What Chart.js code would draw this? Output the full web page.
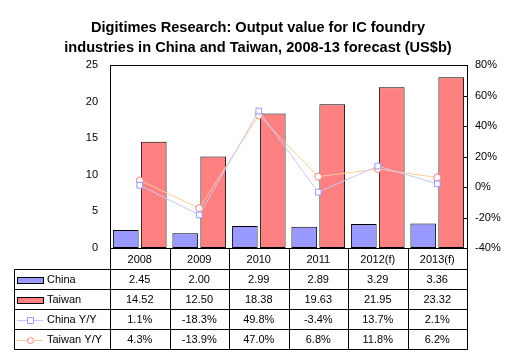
<!DOCTYPE html>
<html>
<head>
<meta charset="utf-8">
<script src="https://cdn.jsdelivr.net/npm/chart.js@4/dist/chart.umd.min.js"></script>
<style>
html,body{margin:0;padding:0;background:#fff;}
canvas{display:block;}
</style>
</head>
<body>
<canvas id="c" width="516" height="355"></canvas>
<script>
const categories = ['2008', '2009', '2010', '2011', '2012(f)', '2013(f)'];
const chinaValues = [2.45, 2.00, 2.99, 2.89, 3.29, 3.36];
const taiwanValues = [14.52, 12.50, 18.38, 19.63, 21.95, 23.32];
const chinaYoY = [1.1, -18.3, 49.8, -3.4, 13.7, 2.1];
const taiwanYoY = [4.3, -13.9, 47.0, 6.8, 11.8, 6.2];
const leftTicks = [0, 5, 10, 15, 20, 25];
const rightTicks = [-40, -20, 0, 20, 40, 60, 80];
const titleLines = ['Digitimes Research: Output value for IC foundry', 'industries in China and Taiwan, 2008-13 forecast (US$b)'];

const FONT = '"Liberation Sans", Arial, sans-serif';
const C_CHINA = '#9999FF', C_TAIWAN = '#FF8080';
const C_CHINA_LINE = '#C8C8FF', C_TAIWAN_LINE = '#FFCC99';

const tablePlugin = {
  id: 'dataTable',
  afterDatasetsDraw(chart) {
    const ctx = chart.ctx, a = chart.chartArea, xs = chart.scales.x, y1 = chart.scales.y1;
    const n = categories.length;
    const w = (a.right - a.left) / n;
    const px = v => Math.round(v) + 0.5;
    ctx.save();
    ctx.strokeStyle = '#000';
    ctx.lineWidth = 1;
    // plot border
    ctx.strokeRect(px(a.left), px(a.top), Math.round(a.right) - Math.round(a.left), Math.round(a.bottom) - Math.round(a.top));
    // right axis inward ticks
    rightTicks.forEach(v => {
      const yy = px(y1.getPixelForValue(v));
      ctx.beginPath(); ctx.moveTo(px(a.right) - 4, yy); ctx.lineTo(px(a.right), yy); ctx.stroke();
    });
    // table geometry
    const headerTop = a.bottom, headerH = 21, rowH = 20, tableLeft = 14;
    const rows = [
      {label: 'China', vals: chinaValues.map(v => v.toFixed(2)), kind: 'bar', color: C_CHINA},
      {label: 'Taiwan', vals: taiwanValues.map(v => v.toFixed(2)), kind: 'bar', color: C_TAIWAN},
      {label: 'China Y/Y', vals: chinaYoY.map(v => v.toFixed(1) + '%'), kind: 'rect', color: C_CHINA, line: C_CHINA_LINE},
      {label: 'Taiwan Y/Y', vals: taiwanYoY.map(v => v.toFixed(1) + '%'), kind: 'circle', color: C_TAIWAN, line: C_TAIWAN_LINE}
    ];
    const bottom = headerTop + headerH + rows.length * rowH;
    for (let i = 0; i <= rows.length; i++) {
      const yy = px(headerTop + headerH + i * rowH);
      ctx.beginPath(); ctx.moveTo(px(tableLeft), yy); ctx.lineTo(px(a.right), yy); ctx.stroke();
    }
    for (let i = 0; i <= n; i++) {
      const xx = px(xs.getPixelForValue(0) - w / 2 + i * w);
      ctx.beginPath(); ctx.moveTo(xx, px(headerTop)); ctx.lineTo(xx, px(bottom)); ctx.stroke();
    }
    ctx.beginPath(); ctx.moveTo(px(tableLeft), px(headerTop + headerH)); ctx.lineTo(px(tableLeft), px(bottom)); ctx.stroke();
    ctx.fillStyle = '#000';
    ctx.font = '11px ' + FONT;
    ctx.textAlign = 'center';
    ctx.textBaseline = 'middle';
    categories.forEach((c, i) => ctx.fillText(c, xs.getPixelForValue(i), headerTop + headerH / 2 + 1));
    rows.forEach((r, ri) => {
      const cy = headerTop + headerH + ri * rowH + rowH / 2 + 0.5;
      ctx.textAlign = 'center';
      r.vals.forEach((v, i) => ctx.fillText(v, xs.getPixelForValue(i), cy));
      if (r.kind === 'bar') {
        ctx.fillStyle = r.color;
        ctx.fillRect(17, Math.round(cy) - 3, 26, 6);
        ctx.strokeRect(17.5, Math.round(cy) - 2.5, 26, 6);
      } else {
        ctx.strokeStyle = r.line;
        ctx.beginPath(); ctx.moveTo(17, Math.round(cy) + 0.5); ctx.lineTo(43, Math.round(cy) + 0.5); ctx.stroke();
        ctx.fillStyle = '#fff';
        ctx.strokeStyle = r.color;
        ctx.beginPath();
        if (r.kind === 'rect') ctx.rect(27.5, Math.round(cy) - 2.5, 6, 6);
        else ctx.arc(30.5, Math.round(cy) + 0.5, 3, 0, Math.PI * 2);
        ctx.fill(); ctx.stroke();
        ctx.strokeStyle = '#000';
      }
      ctx.fillStyle = '#000';
      ctx.textAlign = 'left';
      ctx.fillText(r.label, 47, cy);
    });
    ctx.restore();
  }
};

new Chart(document.getElementById('c'), {
  data: {
    labels: categories,
    datasets: [
      {type: 'line', label: 'China Y/Y', data: chinaYoY, yAxisID: 'y1', order: 0,
       borderColor: C_CHINA_LINE, borderWidth: 1, pointStyle: 'rect', pointRadius: 4,
       pointBorderColor: C_CHINA, pointBackgroundColor: '#fff', pointBorderWidth: 1, tension: 0},
      {type: 'line', label: 'Taiwan Y/Y', data: taiwanYoY, yAxisID: 'y1', order: 0,
       borderColor: C_TAIWAN_LINE, borderWidth: 1, pointStyle: 'circle', pointRadius: 3.5,
       pointBorderColor: C_TAIWAN, pointBackgroundColor: '#fff', pointBorderWidth: 1, tension: 0},
      {type: 'bar', label: 'China', data: chinaValues, yAxisID: 'y', order: 1,
       backgroundColor: C_CHINA, borderColor: '#000', borderWidth: 1, borderSkipped: false,
       categoryPercentage: 0.94, barPercentage: 0.92},
      {type: 'bar', label: 'Taiwan', data: taiwanValues, yAxisID: 'y', order: 1,
       backgroundColor: C_TAIWAN, borderColor: '#000', borderWidth: 1, borderSkipped: false,
       categoryPercentage: 0.94, barPercentage: 0.92}
    ]
  },
  options: {
    responsive: false,
    animation: false,
    devicePixelRatio: 1,
    layout: {padding: {top: 0, left: 0, right: 0, bottom: 107}},
    plugins: {
      legend: {display: false},
      tooltip: {enabled: false},
      title: {
        display: true,
        text: titleLines,
        color: '#000',
        font: {family: FONT, size: 14.6, weight: 'bold', lineHeight: 20 / 14.6},
        padding: {top: 18, bottom: 7}
      }
    },
    scales: {
      x: {type: 'category', display: false, offset: true},
      y: {
        position: 'left', min: leftTicks[0], max: leftTicks[leftTicks.length - 1],
        grid: {display: false, drawTicks: false}, border: {display: false},
        ticks: {stepSize: 5, padding: 12, color: '#000', font: {family: FONT, size: 11}},
        afterFit(s) { s.width = 110; s.paddingTop = 0; s.paddingBottom = 0; }
      },
      y1: {
        position: 'right', min: rightTicks[0], max: rightTicks[rightTicks.length - 1],
        grid: {display: false, drawTicks: false}, border: {display: false},
        ticks: {stepSize: 20, padding: 8, color: '#000', font: {family: FONT, size: 11},
                callback: v => v + '%'},
        afterFit(s) { s.width = 49; s.paddingTop = 0; s.paddingBottom = 0; }
      }
    }
  },
  plugins: [tablePlugin]
});
</script>
</body>
</html>
